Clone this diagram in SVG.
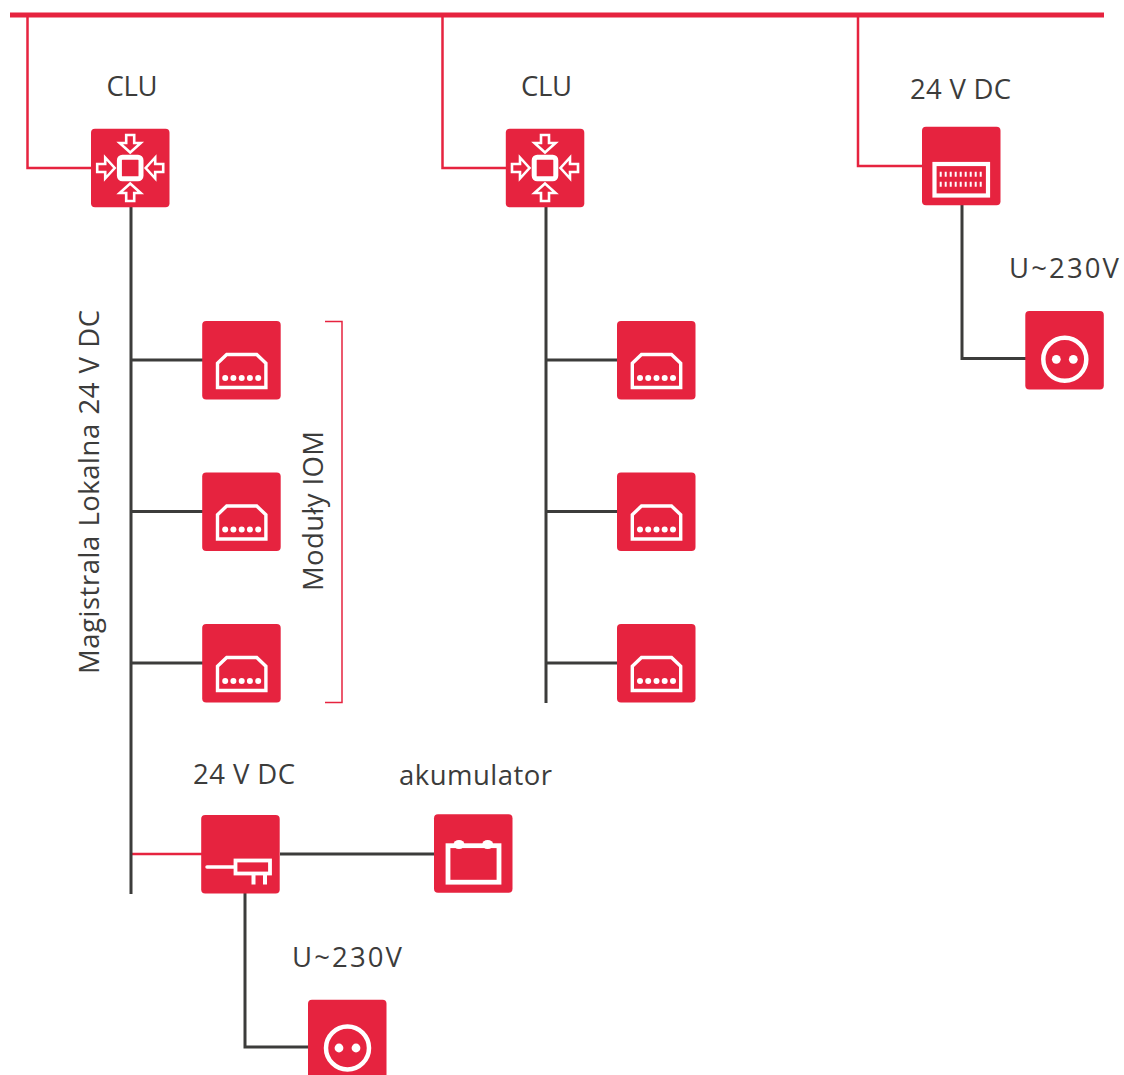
<svg xmlns="http://www.w3.org/2000/svg" width="1124" height="1075" viewBox="0 0 1124 1075">
<style>
text{font-family:"Open Sans","Liberation Sans",sans-serif;font-size:27.500px;fill:#3c3c3b}
.box{fill:#e6233f}
.w{fill:none;stroke:#fff;stroke-width:3.400}
.a{fill:none;stroke:#fff;stroke-width:2.600}
.wf{fill:#fff}
.d{fill:none;stroke:#3c3c3b;stroke-width:3}
.r{fill:none;stroke:#e6233f;stroke-width:2.500}
</style>
<defs>
<rect id="b" class="box" width="78.500" height="78.500" rx="4"/>
<path id="ar" class="a" d="M-4-33H4V-25H10.500L0-15.500L-10.500-25H-4Z"/>
<g id="clu"><use href="#b" x="-39.200" y="-39.200"/><rect x="-10.800" y="-10.800" width="21.600" height="21.600" rx="3" fill="none" stroke="#fff" stroke-width="5"/><use href="#ar"/><use href="#ar" transform="rotate(90)"/><use href="#ar" transform="rotate(180)"/><use href="#ar" transform="rotate(270)"/></g>
<g id="iom"><use href="#b"/><path class="w" d="M15.300 66.500V42.300L24.500 33.500H54.500L63.700 42.300V66.500Z"/><circle class="wf" cx="23" cy="57" r="3"/><circle class="wf" cx="31.200" cy="57" r="3"/><circle class="wf" cx="39.500" cy="57" r="3"/><circle class="wf" cx="47.700" cy="57" r="3"/><circle class="wf" cx="56" cy="57" r="3"/></g>
<g id="sock"><use href="#b"/><circle cx="39.500" cy="48.300" r="21.500" fill="none" stroke="#fff" stroke-width="4.500"/><circle class="wf" cx="31" cy="48.300" r="4.400"/><circle class="wf" cx="48" cy="48.300" r="4.400"/></g>
</defs>
<g id="connectors">
<path d="M10 15H1104" fill="none" stroke="#e6233f" stroke-width="5"/>
<path class="r" d="M27.500 15V168H92M442.500 15V168H507M858 15V166H923M131 854H202"/>
<path d="M325 321.500H342V702.500H325" fill="none" stroke="#e6233f" stroke-width="1.500"/>
<path class="d" d="M131 207V894M131 360H203M131 511.500H203M131 663H203M546 207V703M546 360H618M546 511.500H618M546 663H618M962 205V358.500H1026M280 854H435M245 893V1047H309"/>
</g>
<g id="clu1"><use href="#clu" x="130.200" y="168"/><text x="106.500" y="95.500" textLength="51">CLU</text></g>
<g id="clu2"><use href="#clu" x="545" y="168"/><text x="521" y="95.500" textLength="51">CLU</text></g>
<g id="psu1"><use href="#b" x="922" y="126.800"/>
<rect x="934.500" y="164" width="53.500" height="31.500" fill="none" stroke="#fff" stroke-width="4.200"/>
<path d="M940.700 171.800v5M945.700 171.800v5M950.700 171.800v5M955.700 171.800v5M960.700 171.800v5M965.700 171.800v5M970.700 171.800v5M975.700 171.800v5M980.700 171.800v5M940.700 181.800v5M945.700 181.800v5M950.700 181.800v5M955.700 181.800v5M960.700 181.800v5M965.700 181.800v5M970.700 181.800v5M975.700 181.800v5M980.700 181.800v5" stroke="#fff" stroke-width="2" fill="none"/>
<text x="910" y="98.500" textLength="101">24 V DC</text></g>
<g id="sock1"><use href="#sock" x="1025.300" y="311"/><text x="1009" y="277.500" textLength="110">U~230V</text></g>
<g id="iom1"><use href="#iom" x="202.200" y="321"/></g>
<g id="iom2"><use href="#iom" x="202.200" y="472.500"/></g>
<g id="iom3"><use href="#iom" x="202.200" y="624"/></g>
<g id="iom4"><use href="#iom" x="617" y="321"/></g>
<g id="iom5"><use href="#iom" x="617" y="472.500"/></g>
<g id="iom6"><use href="#iom" x="617" y="624"/></g>
<g id="psu2"><use href="#b" x="201.200" y="815"/>
<path d="M207 867H235" fill="none" stroke="#fff" stroke-width="3.500" stroke-linecap="round"/>
<rect x="235.500" y="860.500" width="34.500" height="13" fill="none" stroke="#fff" stroke-width="3.800"/>
<path d="M253.500 874V884.500M265 874V884.500" fill="none" stroke="#fff" stroke-width="4"/>
<text x="193" y="783.500" textLength="102">24 V DC</text></g>
<g id="batt"><use href="#b" x="434" y="814.300"/>
<rect x="448" y="845.700" width="51" height="36.500" fill="none" stroke="#fff" stroke-width="4.800"/>
<ellipse class="wf" cx="459" cy="844.500" rx="5.500" ry="4.500"/><ellipse class="wf" cx="487.700" cy="844.500" rx="5.500" ry="4.500"/>
<text x="399" y="784.500" textLength="153">akumulator</text></g>
<g id="sock2"><use href="#sock" x="308" y="999.700"/><text x="292" y="966.500" textLength="110">U~230V</text></g>
<text transform="translate(99 674) rotate(-90)" textLength="364" word-spacing="1">Magistrala Lokalna  24 V DC</text>
<text transform="translate(323 591) rotate(-90)" textLength="160">Moduły IOM</text>
</svg>
